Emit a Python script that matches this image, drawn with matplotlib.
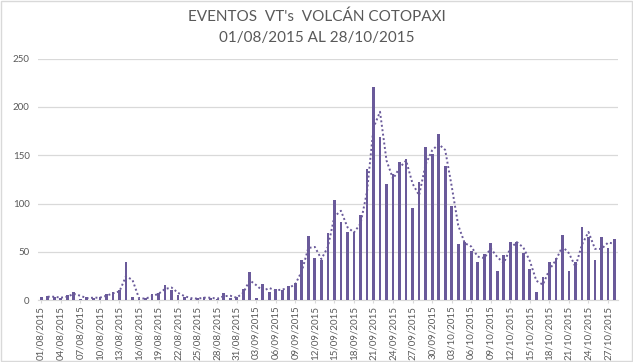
import matplotlib
matplotlib.use("Agg")
import matplotlib.pyplot as plt
import pandas as pd
import numpy as np
from matplotlib.patches import Rectangle

plt.rcParams['font.family'] = ['Lato', 'DejaVu Sans']

title_lines = ["EVENTOS  VT's  VOLCÁN COTOPAXI", "01/08/2015 AL 28/10/2015"]
start_date = "2015-08-01"
end_date = "2015-10-28"
label_step = 3

values = [3, 4, 3, 2, 5, 8, 1, 3, 2, 3,
          6, 8, 10, 39, 3, 1, 2, 6, 7, 16,
          10, 5, 3, 1, 2, 3, 2, 1, 7, 2,
          3, 12, 29, 2, 17, 8, 12, 10, 15, 18,
          42, 66, 44, 41, 69, 104, 81, 70, 70, 88,
          136, 221, 169, 120, 131, 143, 146, 95, 122, 159,
          151, 172, 139, 97, 58, 60, 51, 39, 48, 59,
          30, 47, 60, 60, 49, 32, 8, 24, 39, 44,
          67, 30, 39, 76, 65, 41, 65, 54, 63]
y_ticks = [0, 50, 100, 150, 200, 250]

dates = pd.date_range(start_date, end_date, freq="D")
date_labels = [d.strftime("%d/%m/%Y") for d in dates]
assert len(date_labels) == len(values)

moving_avg = pd.Series(values).rolling(2).mean()

bar_color = "#6a5a9a"
text_color = "#595959"

fig = plt.figure(figsize=(6.33, 3.62), dpi=100)
ax = fig.add_axes([0.06, 0.171, 0.916, 0.667])

x = np.arange(len(values))
ax.bar(x, values, width=0.42, color=bar_color, zorder=3)
ax.plot(x, moving_avg, linestyle=(0, (1, 1.3)), color=bar_color, linewidth=1.4, zorder=4)

ax.set_xlim(-0.5, len(values) - 0.5)
ax.set_ylim(0, 250)
ax.set_yticks(y_ticks)
ax.yaxis.grid(True, color="#d9d9d9", linewidth=0.9, zorder=0)
ax.set_axisbelow(True)
for s in ["top", "right", "left"]:
    ax.spines[s].set_visible(False)
ax.spines["bottom"].set_color("#d9d9d9")

tick_idx = x[::label_step]
ax.set_xticks(tick_idx)
ax.set_xticklabels([date_labels[i] for i in tick_idx], rotation=90, fontsize=7, color=text_color)
ax.tick_params(axis="x", length=2, color="#d9d9d9", pad=2)
ax.tick_params(axis="y", length=0, labelsize=7, labelcolor=text_color, pad=6)

fig.text(0.5, 0.955, title_lines[0], ha="center", va="center", fontsize=11, color=text_color)
fig.text(0.5, 0.895, title_lines[1], ha="center", va="center", fontsize=11, color=text_color)

fig.patches.append(Rectangle((0.002, 0.003), 0.996, 0.994, transform=fig.transFigure,
                             fill=False, edgecolor="#d9d9d9", linewidth=1))

fig.savefig("out.png", dpi=100)
